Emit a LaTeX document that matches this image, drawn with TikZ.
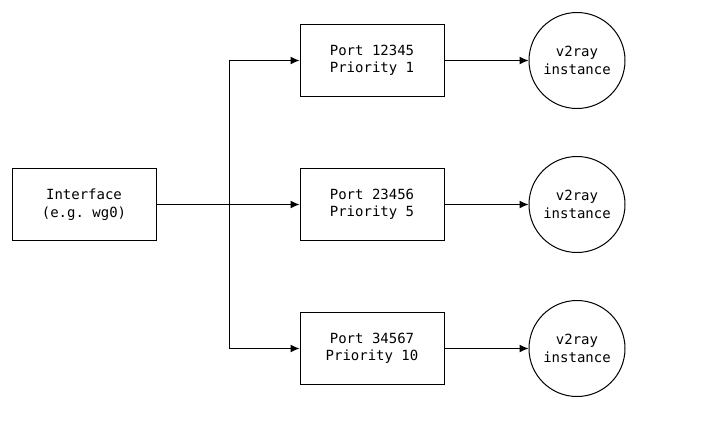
\documentclass[tikz,border=0pt]{standalone}
\usepackage{fontspec}
\setmonofont{DejaVu Sans Mono}
\usetikzlibrary{arrows.meta}

\tikzset{
  box/.style={draw, line width=1pt, minimum width=144pt, minimum height=72pt, align=center, font=\ttfamily\fontsize{14}{17.5}\selectfont},
  inst/.style={draw, line width=1pt, circle, minimum size=96pt, inner sep=0pt, align=center, font=\ttfamily\fontsize{14}{17.5}\selectfont},
  link/.style={line width=1pt, -{Latex[length=9pt,width=8pt]}}
}

\begin{document}
\begin{tikzpicture}[x=1pt, y=-1pt]
\useasboundingbox (0,0) rectangle (706,420);
\node[box] (iface) at (84, 204.5) {Interface\\(e.g. wg0)};
\node[box] (port1) at (372, 60.5) {Port 12345\\Priority 1};
\node[box] (port2) at (372, 204.5) {Port 23456\\Priority 5};
\node[box] (port3) at (372, 348.5) {Port 34567\\Priority 10};

\node[inst] (v2ray1) at (577, 60.5) {v2ray\\instance};
\node[inst] (v2ray2) at (577, 204.5) {v2ray\\instance};
\node[inst] (v2ray3) at (577, 348.5) {v2ray\\instance};

\coordinate (split) at (229, 204.5);
\draw[line width=1pt] (iface.east) -- (split);
\draw[link] (split) |- (port1.west);
\draw[link] (split) -- (port2.west);
\draw[link] (split) |- (port3.west);

\draw[link] (port1) -- (v2ray1);
\draw[link] (port2) -- (v2ray2);
\draw[link] (port3) -- (v2ray3);
\end{tikzpicture}
\end{document}
